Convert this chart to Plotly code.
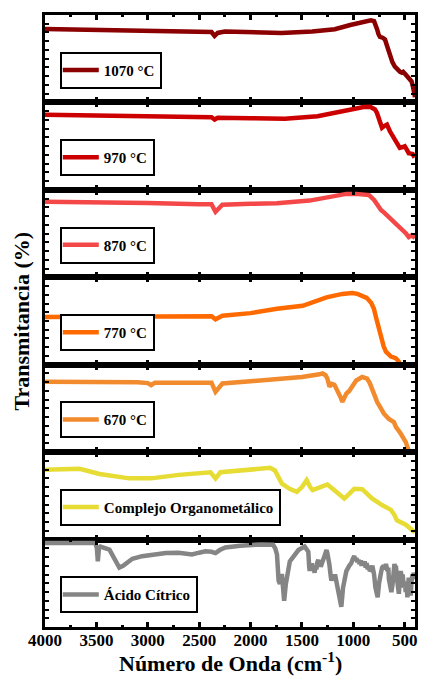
import plotly.graph_objects as go
from plotly.subplots import make_subplots

# ---------------- data ----------------
names = ["1070 °C", "970 °C", "870 °C", "770 °C", "670 °C",
         "Complejo Organometálico", "Ácido Cítrico"]
colors = ["#8B0000", "#CC0000", "#F44848", "#FF6A00", "#F28A2E", "#E6DC34", "#858585"]

wn_1070 = [4000, 3500, 3000, 2500, 2380, 2350, 2320, 2250, 2000, 1700, 1400, 1180, 1030, 950,
           866, 830, 798, 785, 770, 755, 741, 715, 692, 670, 644, 620, 596, 570, 545, 528,
           515, 500, 480, 461, 445, 433, 420, 410, 400]
t_1070 = [84, 83, 81, 80.5, 80.5, 76, 79.5, 81, 80.5, 79.5, 81, 83.7, 88.6, 91,
          93.5, 94, 93, 90, 84, 78, 75, 74, 72, 64, 53, 46, 41, 37, 35, 34,
          35, 33, 30, 28, 26, 24, 18, 12, 6]

wn_970 = [4000, 3500, 3000, 2500, 2380, 2350, 2320, 2000, 1666, 1348, 1184, 1030, 962, 900,
          837, 789, 770, 750, 721, 700, 673, 644, 620, 596, 570, 548, 520, 500, 480, 461,
          440, 423, 403]
t_970 = [86, 85, 84.3, 83.5, 83, 80.5, 82.5, 82, 81.3, 84.3, 88, 92.7, 94, 94.8,
         95, 92, 88, 82.4, 71, 73, 74.7, 67, 62, 57.5, 52, 48, 49, 49.8, 46, 42,
         41.5, 41, 37]

wn_870 = [4000, 3500, 3000, 2500, 2380, 2341, 2300, 2274, 2000, 1743, 1425, 1165, 1068, 972,
          900, 847, 798, 765, 731, 700, 673, 630, 586, 540, 490, 461, 432, 400]
t_870 = [86.5, 86, 85, 83.5, 83.5, 75, 80, 83, 84, 84.7, 87.7, 93, 95.4, 95.4,
         95, 94, 88.5, 82, 77, 74, 71, 67, 62, 56, 50.5, 46, 48, 45]

wn_770 = [4000, 3500, 3000, 2500, 2380, 2341, 2300, 2274, 2000, 1743, 1493, 1261, 1107, 1011,
          960, 914, 870, 827, 800, 779, 755, 731, 705, 683, 655, 634, 610, 586, 560, 538,
          500, 450, 400]
t_770 = [54.6, 55, 55.5, 55.8, 55.5, 52, 54.5, 56, 59, 64, 67.4, 77, 81, 82,
         81, 79, 76.5, 71, 64, 54, 42, 30.6, 21, 15, 11, 9.3, 8.5, 7.3, 4, 0,
         -10, -25, -40]

wn_670 = [4000, 3500, 3100, 3000, 2968, 2930, 2500, 2380, 2341, 2300, 2274, 2000, 1743, 1500,
          1329, 1300, 1270, 1252, 1232, 1210, 1184, 1155, 1125, 1107, 1085, 1068, 1040, 1020,
          972, 914, 866, 840, 818, 790, 769, 740, 702, 654, 620, 606, 586, 560, 538, 490,
          461, 430, 400]
t_670 = [80.5, 80.5, 80, 79, 76.6, 79.5, 80, 79.5, 69, 76, 78.5, 81, 83.5, 86,
         89, 90, 88, 84, 75, 78, 77, 71, 63, 57.5, 63, 67, 70, 73,
         82, 86, 84, 79, 71, 64, 57.5, 51, 44, 38, 35, 34.5, 29, 25, 21, 11.5,
         2, -10, -20]

wn_comp = [4000, 3662, 3470, 3300, 3180, 2968, 2698, 2390, 2341, 2293, 2071, 1810, 1763, 1730,
           1695, 1620, 1550, 1500, 1454, 1420, 1396, 1320, 1252, 1184, 1130, 1088, 1060, 1040,
           991, 914, 870, 818, 721, 634, 600, 576, 490, 450, 413, 400]
t_comp = [80, 81, 75, 72, 70, 70, 74, 77, 70, 77, 79, 82, 79, 72,
          64, 58, 54.5, 60, 68, 60, 56.5, 60, 63, 56.5, 52, 47, 50, 52.6,
          58, 57.6, 53, 47, 39.5, 34, 28, 22, 17, 13, 9, 8]

wn_cit = [4000, 3600, 3510, 3495, 3486, 3475, 3460, 3373, 3320, 3277, 3240, 3212, 3150, 3055,
          2950, 2824, 2700, 2630, 2570, 2500, 2438, 2380, 2341, 2300, 2245, 2100, 2023, 1900,
          1782, 1760, 1743, 1727, 1714, 1695, 1673, 1657, 1618, 1534, 1474,
          1438, 1430, 1425, 1418, 1410, 1402, 1395, 1388, 1377, 1368, 1360, 1350, 1341, 1333,
          1325, 1317, 1309, 1300, 1290, 1281, 1270, 1261, 1252, 1245, 1233, 1220, 1213, 1200,
          1190, 1178, 1165, 1136, 1117, 1100, 1068, 1040,
          1020, 1005, 991, 980, 970, 960, 950, 940, 930, 920, 910, 900, 890, 880, 870, 860,
          850, 840, 827, 815, 805, 798, 785, 763, 750, 740, 731, 720, 705, 695, 683, 668,
          660, 654, 640, 630, 619, 610, 600, 590, 586, 575, 565, 557, 550, 538, 530, 520,
          509, 500, 490, 482, 474, 468, 461, 452, 442, 435, 426, 420, 413, 405, 400]
t_cit = [96, 96, 96, 90, 75, 90, 92, 88.5, 78, 68, 70, 73, 78, 81,
         83, 84.6, 85, 84.6, 83, 85, 86.5, 86, 84.6, 88, 91, 93, 94, 94.5,
         94, 90, 83, 53, 49.4, 60.6, 30, 49, 75, 88, 92,
         86, 70, 64, 72, 66, 73, 65, 70, 62, 70, 66, 74, 77, 70,
         74, 69, 73, 76, 78, 81, 86, 88, 84, 80, 71.5, 58, 53, 58,
         54, 60, 53, 38, 23, 45, 64, 70,
         73, 78, 81, 76, 79, 74, 77, 72, 76, 70, 75, 71, 75, 68, 73, 66,
         70, 64, 66, 70, 66, 60, 45, 34, 50, 60, 62, 68, 70, 66, 72, 64,
         68, 55, 45, 40, 48, 62, 72, 66, 70, 55, 45, 38, 52, 64, 55, 60,
         45, 52, 40, 50, 34, 45, 56.5, 44, 36, 50, 60, 55, 62, 58, 60]

series_wn = [wn_1070, wn_970, wn_870, wn_770, wn_670, wn_comp, wn_cit]
series_t = [t_1070, t_970, t_870, t_770, t_670, t_comp, t_cit]

tick_vals = [4000, 3500, 3000, 2500, 2000, 1500, 1000, 500]
tick_text = ["4000", "3500", "3000", "2500", "2000", "1500", "1000", "500"]
minor_vals = [3750, 3250, 2750, 2250, 1750, 1250, 750]

x_title = "Número de Onda (cm<sup>-1</sup>)"
y_title = "Transmitancia (%)"

# ---------------- figure ----------------
FONT = "Liberation Serif, Times New Roman, serif"
n = len(names)
fig = make_subplots(rows=n, cols=1, vertical_spacing=0, shared_xaxes=False)

panel_h = 1.0 / n
for i in range(n):
    leg_name = "legend" if i == 0 else f"legend{i + 1}"
    fig.add_trace(go.Scatter(x=series_wn[i], y=series_t[i], mode="lines",
                             name=names[i], line=dict(color=colors[i], width=4.5),
                             legend=leg_name, showlegend=True),
                  row=i + 1, col=1)
    panel_bottom = 1.0 - (i + 1) * panel_h
    fig.layout[leg_name] = dict(
        x=0.04, y=panel_bottom + 0.0225, xanchor="left", yanchor="bottom",
        bgcolor="white", bordercolor="black", borderwidth=2,
        font=dict(family=FONT, size=15, color="black", weight="bold"),
        itemwidth=36, tracegroupgap=0, indentation=-4)

for i in range(n):
    last = (i == n - 1)
    fig.update_xaxes(row=i + 1, col=1, range=[4000, 400], showline=True, linewidth=3,
                     linecolor="black", mirror="allticks", ticks="inside", ticklen=5,
                     tickwidth=3, tickcolor="black", tickmode="array",
                     tickvals=tick_vals, ticktext=tick_text, showticklabels=last,
                     tickfont=dict(family=FONT, size=17, color="black", weight="bold"),
                     ticklabelstandoff=-4,
                     showgrid=False, zeroline=False,
                     minor=dict(tickmode="array", tickvals=minor_vals, ticks="inside",
                                ticklen=2, tickwidth=3, tickcolor="black", showgrid=False))
    fig.update_yaxes(row=i + 1, col=1, range=[0, 100], showline=True, linewidth=3,
                     linecolor="black", mirror="allticks", ticks="inside", ticklen=4,
                     tickwidth=2, tickcolor="black", dtick=10, tick0=0,
                     showticklabels=False, showgrid=False, zeroline=False)

fig.add_annotation(text=f"<b>{y_title}</b>", xref="paper", yref="paper",
                   x=-0.066, y=0.5, textangle=-90, showarrow=False,
                   xanchor="center", yanchor="middle",
                   font=dict(family=FONT, size=22, color="black"))
fig.add_annotation(text=f"<b>{x_title}</b>", xref="paper", yref="paper",
                   x=0.5, y=-0.058, showarrow=False, xanchor="center", yanchor="middle",
                   font=dict(family=FONT, size=22, color="black"))

fig.update_layout(width=424, height=677, margin=dict(l=45, r=6, t=15, b=50),
                  plot_bgcolor="white", paper_bgcolor="white",
                  font=dict(family=FONT, color="black"))

fig.write_html("out.html")
